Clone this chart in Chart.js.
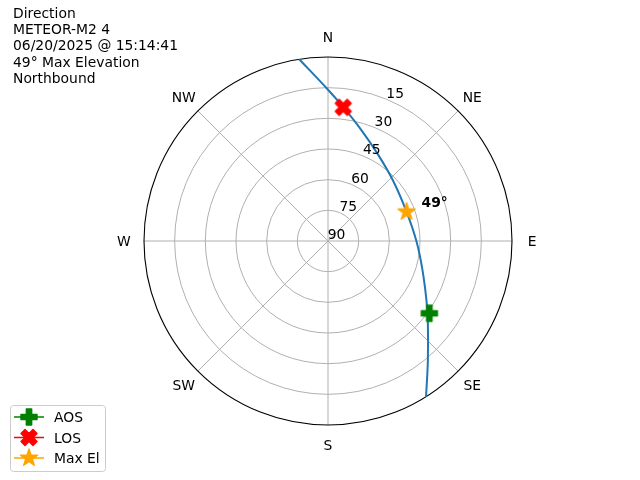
<!DOCTYPE html>
<html><head><meta charset="utf-8">
<script src="https://cdn.jsdelivr.net/npm/chart.js@4/dist/chart.umd.min.js"></script>
<style>html,body{margin:0;padding:0;background:#fff}canvas{display:block}</style>
</head><body>
<canvas id="c" width="640" height="480"></canvas>
<script>
// ---- data ----
const titleLines = ["Direction", "METEOR-M2 4", "06/20/2025 @ 15:14:41", "49° Max Elevation", "Northbound"];
const trackAz = [147.8, 140.0, 128.4, 120.9, 107.1, 90.3, 69.6, 46.7, 29.3, 15.9, 6.6, 359.5, 351.0];
const trackEl = [0, 14.0, 27.7, 33.9, 41.65, 46.7, 49.0, 46.5, 40.8, 32.7, 24.2, 15.3, 0];
const aosPoint = [125.5, 29.1];   // [az, el]
const losPoint = [6.5, 24.2];
const maxElPoint = [69.6, 49.0];
const maxElLabel = "49°";
const elevationTicks = [15, 30, 45, 60, 75, 90];
const directionLabels = ["N", "NE", "E", "SE", "S", "SW", "W", "NW"];
const legendLabels = ["AOS", "LOS", "Max El"];

const FONT = '13.89px "DejaVu Sans"';
const TY = 1.6; // vertical text nudge for middle baseline
const toXY = (az, el) => {
  const r = 90 - el, a = az * Math.PI / 180;
  return { x: r * Math.sin(a), y: r * Math.cos(a) };
};

function drawShape(ctx, shape, cx, cy, size, color) {
  let pts = [];
  if (shape === 'plus') {
    pts = [[-1,-3],[-1,-1],[-3,-1],[-3,1],[-1,1],[-1,3],[1,3],[1,1],[3,1],[3,-1],[1,-1],[1,-3]].map(p => [p[0]/6, p[1]/6]);
  } else if (shape === 'x') {
    pts = [[-1,-2],[0,-1],[1,-2],[2,-1],[1,0],[2,1],[1,2],[0,1],[-1,2],[-2,1],[-1,0],[-2,-1]].map(p => [p[0]/4, p[1]/4]);
  } else {
    for (let i = 0; i < 10; i++) {
      const r = i % 2 === 0 ? 0.5 : 0.5 * 0.381966;
      const a = i * Math.PI / 5;
      pts.push([r * Math.sin(a), -r * Math.cos(a)]);
    }
  }
  ctx.save();
  ctx.beginPath();
  pts.forEach((p, i) => { const X = cx + p[0]*size, Y = cy + p[1]*size; i ? ctx.lineTo(X, Y) : ctx.moveTo(X, Y); });
  ctx.closePath();
  ctx.fillStyle = color; ctx.strokeStyle = color; ctx.lineWidth = 1.4; ctx.lineJoin = 'round';
  ctx.fill(); ctx.stroke();
  ctx.restore();
}
function markerCanvas(shape, color, size) {
  const c = document.createElement('canvas'); c.width = 26; c.height = 26;
  drawShape(c.getContext('2d'), shape, 13, 13, size, color);
  return c;
}
const markers = [
  { shape: 'plus', color: 'green', size: 16 },
  { shape: 'x', color: 'red', size: 16 },
  { shape: 'star', color: 'orange', size: 18 }
];

const polarPlugin = {
  id: 'polar',
  beforeDatasetsDraw(chart) {
    const { ctx, scales: { x, y } } = chart;
    const cx = x.getPixelForValue(0), cy = y.getPixelForValue(0);
    const px = v => x.getPixelForValue(v) - cx;
    ctx.save();
    ctx.strokeStyle = '#b0b0b0'; ctx.lineWidth = 1;
    elevationTicks.forEach(el => {
      const r = px(90 - el);
      if (r <= 0) return;
      ctx.beginPath(); ctx.arc(cx, cy, r, 0, Math.PI * 2); ctx.stroke();
    });
    directionLabels.forEach((d, i) => {
      const p = toXY(i * 45, 0);
      ctx.beginPath(); ctx.moveTo(cx, cy);
      ctx.lineTo(x.getPixelForValue(p.x), y.getPixelForValue(p.y)); ctx.stroke();
    });
    ctx.strokeStyle = '#000'; ctx.lineWidth = 1.1;
    ctx.beginPath(); ctx.arc(cx, cy, px(90), 0, Math.PI * 2); ctx.stroke();
    ctx.restore();
  },
  afterDatasetsDraw(chart) {
    const { ctx, scales: { x, y } } = chart;
    ctx.save();
    ctx.font = FONT; ctx.fillStyle = '#000';
    ctx.textAlign = 'center'; ctx.textBaseline = 'middle';
    directionLabels.forEach((d, i) => {
      const p = toXY(i * 45, -9.8);
      ctx.fillText(d, x.getPixelForValue(p.x), y.getPixelForValue(p.y) + TY);
    });
    elevationTicks.forEach(el => {
      const p = toXY(22.5, el);
      ctx.fillText(String(el), x.getPixelForValue(p.x) + 8.5, y.getPixelForValue(p.y) - 7 + TY);
    });
    // max elevation annotation
    const m = toXY(maxElPoint[0], maxElPoint[1]);
    ctx.font = 'bold ' + FONT; ctx.textAlign = 'left';
    ctx.fillText(maxElLabel, x.getPixelForValue(m.x) + 15, y.getPixelForValue(m.y) - 10 + TY);
    // title block
    ctx.font = FONT; ctx.textAlign = 'left';
    titleLines.forEach((t, i) => ctx.fillText(t, 13, 12.7 + i * 16.2 + TY));
    // legend
    ctx.fillStyle = 'rgba(255,255,255,0.8)'; ctx.strokeStyle = '#cccccc'; ctx.lineWidth = 1;
    ctx.beginPath(); ctx.roundRect(10.5, 405.5, 95, 66, 3); ctx.fill(); ctx.stroke();
    const rows = [417, 437.5, 458];
    legendLabels.forEach((lab, i) => {
      const mk = markers[i];
      ctx.strokeStyle = mk.color; ctx.lineWidth = 1.5;
      ctx.beginPath(); ctx.moveTo(14, rows[i]); ctx.lineTo(44, rows[i]); ctx.stroke();
      drawShape(ctx, mk.shape, 29, rows[i], mk.size, mk.color);
      ctx.fillStyle = '#000';
      ctx.fillText(lab, 54, rows[i] + TY);
    });
    ctx.restore();
  }
};

const pointSets = [aosPoint, losPoint, maxElPoint];
const datasets = pointSets.map((p, i) => ({
  label: legendLabels[i],
  data: [toXY(p[0], p[1])],
  pointStyle: markerCanvas(markers[i].shape, markers[i].color, markers[i].size),
  showLine: false,
  order: 1,
  clip: false
}));
datasets.push({
  label: 'Track',
  data: trackAz.map((a, i) => toXY(a, trackEl[i])),
  showLine: true,
  borderColor: '#1f77b4',
  borderWidth: 2,
  pointRadius: 0,
  tension: 0.4,
  fill: false,
  order: 2,
  clip: false
});

new Chart(document.getElementById('c'), {
  type: 'scatter',
  data: { datasets },
  options: {
    responsive: false,
    animation: false,
    devicePixelRatio: 1,
    events: [],
    layout: { padding: { left: 144, right: 128, top: 57, bottom: 55 } },
    scales: {
      x: { type: 'linear', min: -90, max: 90, display: false },
      y: { type: 'linear', min: -90, max: 90, display: false }
    },
    plugins: { legend: { display: false }, tooltip: { enabled: false }, title: { display: false } }
  },
  plugins: [polarPlugin]
});
</script>
</body></html>
